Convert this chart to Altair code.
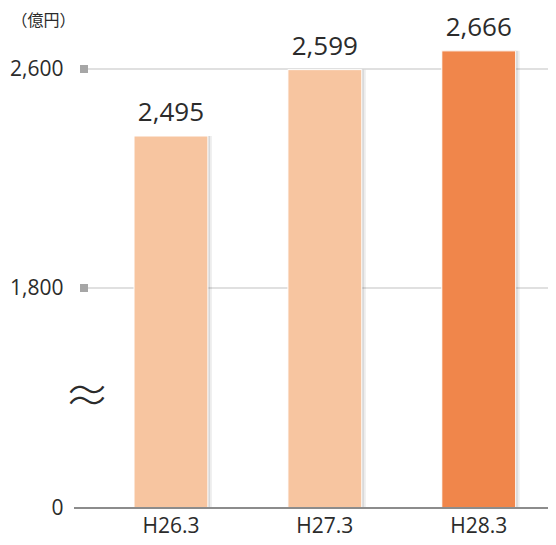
import altair as alt
import pandas as pd

categories = ["H26.3", "H27.3", "H28.3"]
values = [2495, 2599, 2666]
highlight = [False, False, True]
grid_values = [1800, 2600]
tick_values = [0, 1800, 2600]
unit_label = "（億円）"

df = pd.DataFrame({"year": categories, "value": values, "hl": highlight})
grid_df = pd.DataFrame({"v": grid_values})
brk_df = pd.DataFrame({"v": [900], "t": ["≈"]})
base_df = pd.DataFrame({"v": [0]})

W, H = 474, 478
FONT = "Open Sans"
TXT = "#2b2b2b"

yscale = alt.Scale(domain=[0, 1800, 2495, 2600, 2742], range=[478, 258, 106, 39, 0],
                   nice=False, zero=False)
xscale = alt.Scale(domain=categories, paddingInner=0.52, paddingOuter=0.30, align=0.65)

yaxis = alt.Axis(values=tick_values, labelExpr="format(datum.value, ',')",
                 labelFontSize=21, labelFont=FONT,
                 labelColor=TXT, ticks=False, domain=False, grid=False, labelPadding=11,
                 title=unit_label, titleAngle=0, titleAlign="left", titleX=-63, titleY=-10,
                 titleFontSize=16, titleFont="Noto Sans CJK JP", titleFontWeight="normal",
                 titleColor=TXT, titleBaseline="middle")
xaxis = alt.Axis(title=None, labelAngle=0, ticks=False, domain=False, labelFontSize=21,
                 labelFont=FONT, labelColor=TXT, labelPadding=7)

Y = lambda f: alt.Y(f, scale=yscale, axis=yaxis)
X = lambda: alt.X("year:N", scale=xscale, axis=xaxis, sort=categories)

grid = alt.Chart(grid_df).mark_rule(color="#d6d6d6", strokeWidth=1.5).encode(
    y=Y("v:Q"), x=alt.value(14), x2=alt.value(W),
)
squares = alt.Chart(grid_df).mark_point(shape="square", size=64, filled=True,
                                        color="#a6a6a6", opacity=1).encode(
    y=Y("v:Q"), x=alt.value(10),
)
shadow1 = alt.Chart(df).mark_bar(color="#000000", opacity=0.10, xOffset=2).encode(
    x=X(), y=Y("value:Q"), y2=alt.datum(0),
)
shadow2 = alt.Chart(df).mark_bar(color="#000000", opacity=0.07, xOffset=4).encode(
    x=X(), y=Y("value:Q"), y2=alt.datum(0),
)
bars = alt.Chart(df).mark_bar(stroke="white", strokeWidth=1).encode(
    x=X(), y=Y("value:Q"), y2=alt.datum(0),
    color=alt.condition("datum.hl", alt.value("#f0864b"), alt.value("#f7c5a0")),
)
baseline = alt.Chart(base_df).mark_rule(color="#8c8c8c", strokeWidth=2).encode(
    y=Y("v:Q"), x=alt.value(0), x2=alt.value(W),
)
labels = alt.Chart(df).mark_text(baseline="alphabetic", dy=-15, fontSize=26, font=FONT,
                                 color=TXT).encode(
    x=X(), y=Y("value:Q"), text=alt.Text("value:Q", format=","),
)
brk = alt.Chart(brk_df).mark_text(fontSize=46, font="Noto Sans CJK JP", fontWeight=300,
                                  color=TXT, align="center", baseline="middle").encode(
    y=Y("v:Q"), x=alt.value(13), text="t:N",
)

chart = alt.layer(grid, squares, shadow2, shadow1, bars, baseline, labels, brk).properties(
    width=W, height=H, autosize=alt.AutoSizeParams(type="none"),
    padding={"left": 66, "top": 22, "right": 0, "bottom": 29},
).configure_view(stroke=None)

chart.save("out.html", embed_options={"renderer": "svg", "actions": False})
